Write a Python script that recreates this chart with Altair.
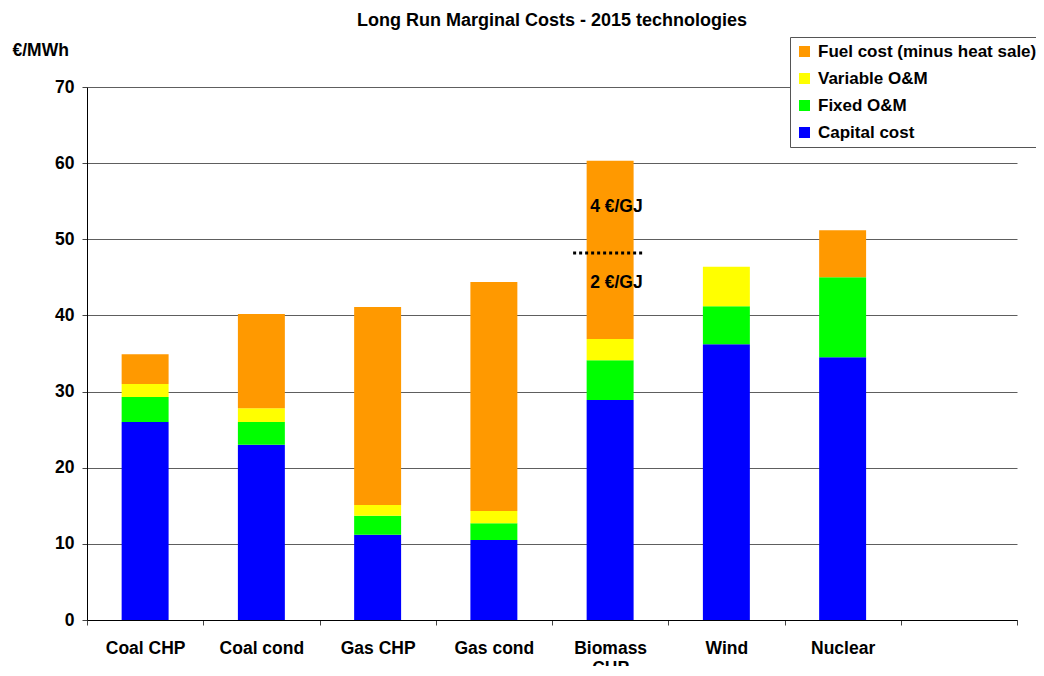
import altair as alt
import pandas as pd

categories = ["Coal CHP", "Coal cond", "Gas CHP", "Gas cond", "Biomass CHP", "Wind", "Nuclear"]
x_domain = categories + [" "]
capital = [26.0, 23.0, 11.2, 10.5, 28.9, 36.2, 34.5]
fixed_om = [3.3, 3.0, 2.5, 2.2, 5.2, 5.0, 10.5]
variable_om = [1.7, 1.8, 1.4, 1.6, 2.8, 5.2, 0.0]
fuel = [3.9, 12.4, 26.0, 30.1, 23.4, 0.0, 6.2]

series_names = ["Capital cost", "Fixed O&M", "Variable O&M", "Fuel cost (minus heat sale)"]
series_values = [capital, fixed_om, variable_om, fuel]
legend_order = ["Fuel cost (minus heat sale)", "Variable O&M", "Fixed O&M", "Capital cost"]
colors = ["#FF9900", "#FFFF00", "#00FF00", "#0000FF"]

price_split_cat = ["Biomass CHP"]
price_split_value = [48.2]
price_labels = ["4 €/GJ", "2 €/GJ"]
price_label_y = [54.3, 44.3]

rows = []
for si, (name, vals) in enumerate(zip(series_names, series_values)):
    for c, v in zip(categories, vals):
        rows.append({"tech": c, "cost": name, "value": v, "order": si})
df = pd.DataFrame(rows)

FONT = "Liberation Sans"
FS = 17.5

x_enc = alt.X(
    "tech:N",
    scale=alt.Scale(domain=x_domain, paddingInner=0, paddingOuter=0),
    sort=x_domain,
    axis=alt.Axis(
        title=None, labelAngle=0, tickBand="extent", grid=False,
        labelExpr="datum.value == 'Biomass CHP' ? ['Biomass', 'CHP'] : datum.value",
        labelFont=FONT, labelFontSize=FS, labelFontWeight="bold", labelColor="black",
        labelPadding=14, tickSize=5, tickColor="#444", domainColor="black",
        labelLineHeight=20,
    ),
)

bars = alt.Chart(df).mark_bar(width=alt.RelativeBandSize(0.404)).encode(
    x=x_enc,
    y=alt.Y(
        "value:Q",
        stack="zero",
        scale=alt.Scale(domain=[0, 70], nice=False),
        axis=alt.Axis(
            values=list(range(0, 71, 10)), title="€/MWh", titleAngle=0,
            titleX=-75, titleY=-37, titleAlign="left", titleBaseline="middle",
            titleFont=FONT, titleFontSize=FS, titleFontWeight="bold", titleColor="black",
            labelFont=FONT, labelFontSize=FS, labelFontWeight="bold", labelColor="black",
            labelPadding=8, tickSize=5, tickColor="#444", domainColor="black",
            gridColor="#5e5e5e", gridWidth=1,
        ),
    ),
    color=alt.Color(
        "cost:N",
        scale=alt.Scale(domain=legend_order, range=colors),
        legend=alt.Legend(
            title=None, orient="none", legendX=703, legendY=-50,
            symbolType="square", symbolSize=121, symbolStrokeWidth=0,
            labelFont=FONT, labelFontSize=17, labelFontWeight="bold", labelColor="black",
            labelLimit=400, rowPadding=9, padding=6,
            strokeColor="#555", fillColor="white", labelOffset=5,
        ),
    ),
    order=alt.Order("order:Q", sort="ascending"),
)

split_df = pd.DataFrame({"tech": price_split_cat, "value": price_split_value})
split_rule = alt.Chart(split_df).mark_rule(
    color="black", strokeWidth=3, strokeDash=[3, 3], xOffset=-37, x2Offset=34
).encode(x=alt.X("tech:N"), x2="tech:N", y="value:Q")

label_df = pd.DataFrame({"tech": ["Biomass CHP"] * 2, "value": price_label_y, "text": price_labels})
price_text = alt.Chart(label_df).mark_text(
    font=FONT, fontSize=FS, fontWeight="bold", color="black", align="left", dx=-20
).encode(x=alt.X("tech:N"), y="value:Q", text="text:N")

chart = alt.layer(bars, split_rule, price_text).properties(
    width=930, height=533,
    autosize=alt.AutoSizeParams(type="none"),
    padding={"left": 79, "top": 79, "right": 19, "bottom": 46},
    title=alt.TitleParams(
        "Long Run Marginal Costs - 2015 technologies", font=FONT, fontSize=18,
        fontWeight="bold", color="black", anchor="middle", frame="group", offset=7,
    ),
).configure_view(stroke=None)

chart.save("out.html", embed_options={"renderer": "svg", "actions": False})
